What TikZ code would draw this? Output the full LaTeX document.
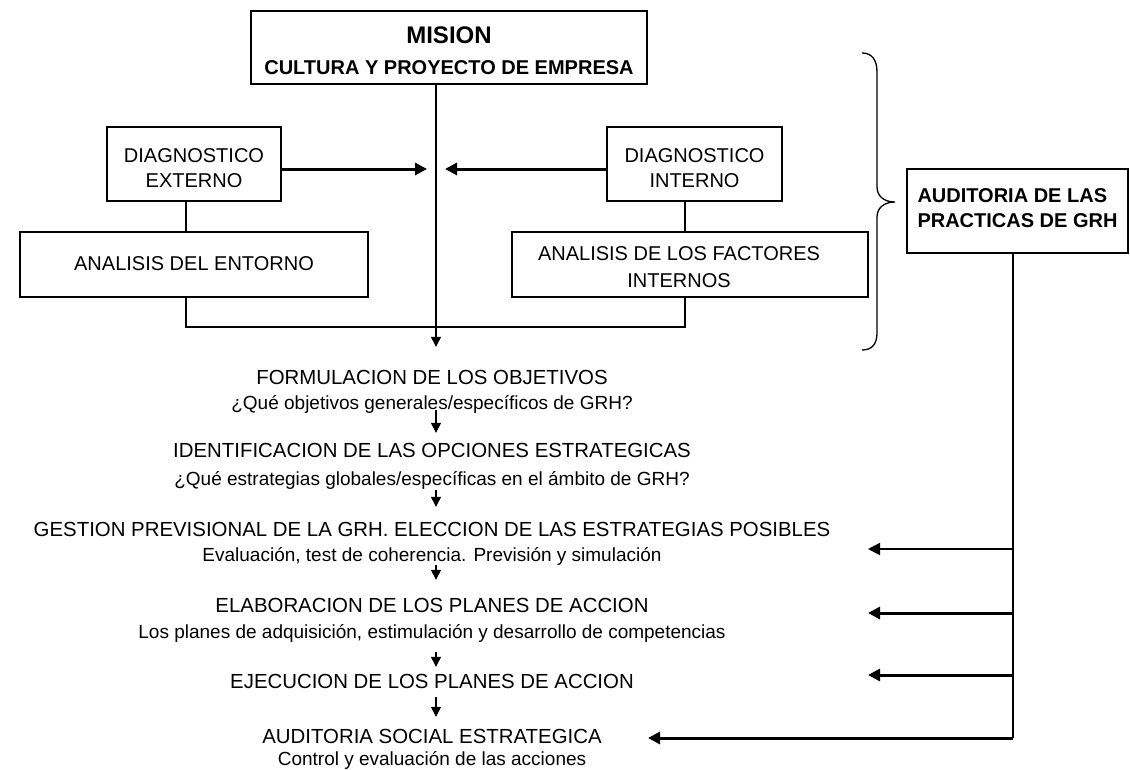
\documentclass[tikz,border=0pt]{standalone}
\usepackage{fontspec}
\setmainfont{Liberation Sans}
\usetikzlibrary{arrows.meta}
\begin{document}
\begin{tikzpicture}[x=1pt,y=-1pt,
  box/.style={draw, line width=1.3pt, inner sep=0pt, align=center,
    font=\fontsize{20}{25}\selectfont},
  stitle/.style={inner sep=0pt, text height=14.6pt, text depth=0pt,
    font=\fontsize{20.4}{24}\selectfont},
  ssub/.style={inner sep=0pt, text height=13.6pt, text depth=0pt,
    font=\fontsize{19}{23}\selectfont},
  link/.style={line width=1.3pt},
  flow/.style={line width=1.3pt, -{Triangle[length=10pt,width=10pt]}},
  feed/.style={line width=3pt, -{Triangle[length=12pt,width=12pt]}},
  feedthin/.style={line width=2pt, -{Triangle[length=12pt,width=12pt]}},
]
\useasboundingbox (0,0) rectangle (1130,769);

% helper coordinates for vertical runs
\coordinate (col) at (436,0);
\coordinate (lkL) at (186,0);
\coordinate (lkR) at (685,0);
\coordinate (rail) at (1013,0);
\coordinate (join) at (436,327);
\coordinate (inL) at (427,169);
\coordinate (inR) at (445,169);

% top boxes (text height/depth measured from the last line's baseline)
\node[box, font=\fontsize{20}{30.8}\selectfont\bfseries, minimum width=396pt,
  text height=63.2pt, text depth=9.8pt] (mision) at (449,47.5)
  {{\fontsize{24}{30.8}\selectfont MISION}\\CULTURA Y PROYECTO DE EMPRESA};
\node[box, minimum width=174pt, text height=60.2pt, text depth=13.8pt]
  (dext) at (194,164) {DIAGNOSTICO\\EXTERNO};
\node[box, minimum width=175pt, text height=60.2pt, text depth=13.8pt]
  (dint) at (694.5,164) {DIAGNOSTICO\\INTERNO};
\node[box, minimum width=348pt, text height=38.2pt, text depth=26.8pt]
  (ent) at (194,264.5) {ANALISIS DEL ENTORNO};
\node[box, font=\fontsize{20}{27}\selectfont, minimum width=356pt,
  text height=55.2pt, text depth=9.8pt]
  (fac) at (690,264.5)
  {ANALISIS DE LOS FACTORES\hspace*{22pt}\\INTERNOS\hspace*{22pt}};
\node[box, align=left, font=\fontsize{20}{25}\selectfont\bfseries,
  minimum width=221pt, text height=58.2pt, text depth=25.8pt]
  (audit) at (1017.5,211) {AUDITORIA DE LAS\\PRACTICAS DE GRH};

% brace grouping the diagnosis block
\draw[link] (862,53) .. controls (872,53) and (877,60) .. (877,72)
  -- (877,187) .. controls (877,196) and (884,202) .. (895,202)
  .. controls (884,202) and (877,208) .. (877,217)
  -- (877,333) .. controls (877,344) and (872,350) .. (862,350);

% process steps
\node[stitle] (f1t) at (432,377) {FORMULACION DE LOS OBJETIVOS};
\node[ssub]   (f1s) at (432,403) {¿Qué objetivos generales/específicos de GRH?};
\node[stitle] (f2t) at (432,450) {IDENTIFICACION DE LAS OPCIONES ESTRATEGICAS};
\node[ssub]   (f2s) at (432,479) {¿Qué estrategias globales/específicas en el ámbito de GRH?};
\node[stitle] (f3t) at (432,529) {GESTION PREVISIONAL DE LA GRH. ELECCION DE LAS ESTRATEGIAS POSIBLES};
\node[ssub]   (f3s) at (432,555) {Evaluación, test de coherencia. Previsión y simulación};
\node[stitle] (f4t) at (432,605) {ELABORACION DE LOS PLANES DE ACCION};
\node[ssub]   (f4s) at (432,632) {Los planes de adquisición, estimulación y desarrollo de competencias};
\node[stitle] (f5t) at (432,681) {EJECUCION DE LOS PLANES DE ACCION};
\node[stitle] (f6t) at (432,736) {AUDITORIA SOCIAL ESTRATEGICA};
\node[ssub]   (f6s) at (432,759) {Control y evaluación de las acciones};

% diagnosis feeding the main line
\draw[feed] ([yshift=-5pt]dext.east) -- (inL);
\draw[feed] ([yshift=-5pt]dint.west) -- (inR);
\draw[link] (dext.south -| lkL) -- (ent.north -| lkL);
\draw[link] (dint.south -| lkR) -- (fac.north -| lkR);
\draw[link] (ent.south -| lkL) |- (join);
\draw[link] (fac.south -| lkR) |- (join);

% main vertical flow
\draw[flow, shorten >=22.7pt] (mision.south -| col) -- (f1t.north -| col);
\draw[flow, shorten >=9.7pt] (f1s.south -| col) -- (f2t.north -| col);
\draw[flow, shorten <=4.2pt, shorten >=14.7pt] (f2s.south -| col) -- (f3t.north -| col);
\draw[flow, shorten <=3.2pt, shorten >=17.7pt] (f3s.south -| col) -- (f4t.north -| col);
\draw[flow, shorten <=13.2pt, shorten >=6.7pt] (f4s.south -| col) -- (f5t.north -| col);
\draw[flow, shorten <=8.7pt, shorten >=11.7pt] (f5t.south -| col) -- (f6t.north -| col);

% audit feedback rail
\coordinate (r1) at (1013,549);
\coordinate (r2) at (1013,613);
\coordinate (r3) at (1013,675);
\coordinate (r4) at (1013,738);
\coordinate (t1) at (868,549);
\coordinate (t2) at (868,613);
\coordinate (t3) at (868,675);
\coordinate (t4) at (648,738);
\draw[link] (audit.south -| rail) -- (r4);
\draw[feedthin] (r1) -- (t1);
\draw[feed] (r2) -- (t2);
\draw[feed] (r3) -- (t3);
\draw[feed] (r4) -- (t4);
\end{tikzpicture}
\end{document}
